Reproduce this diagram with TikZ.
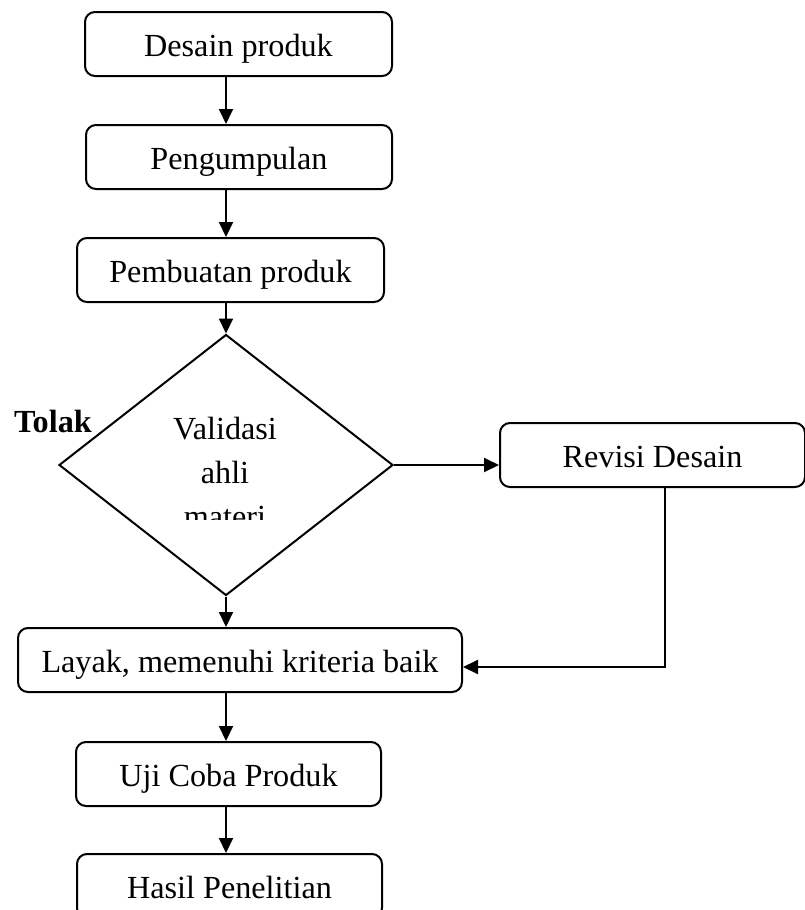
\documentclass[tikz,border=0pt]{standalone}
\usepackage{fontspec}
\setmainfont{Liberation Serif}
\usetikzlibrary{shapes.geometric,arrows.meta}
\begin{document}
\begin{tikzpicture}[x=1pt,y=1pt,
  box/.style={draw,line width=2pt,rounded corners=10pt,minimum height=64pt,inner sep=0pt,text height=25pt,text depth=0pt,font=\fontsize{32.2}{38}\selectfont},
  arr/.style={line width=2pt,-{Triangle[length=15pt,width=14pt]}},
  txt/.style={inner sep=0pt,font=\fontsize{32.2}{38}\selectfont}]
\useasboundingbox (0,0) rectangle (805,-910);
\clip (0,0) rectangle (805,-910);
\node[box,minimum width=307pt] (b1) at (238.5,-44) {Desain produk};
\node[box,minimum width=306pt] (b2) at (239,-157) {Pengumpulan};
\node[box,minimum width=307pt] (b3) at (230.5,-270) {Pembuatan produk};
\node[draw,line width=2pt,shape=diamond,minimum width=334pt,minimum height=261pt,inner sep=0pt] (val) at (226,-465) {};
\node[txt,anchor=base] (v1) at (225,-439) {Validasi};
\node[txt,anchor=base] (v2) at (225,-483) {ahli};
\begin{scope}
\clip (150,-490) rectangle (300,-519);
\node[txt,anchor=base] (v3) at (225,-527) {materi};
\end{scope}
\node[txt,anchor=base west,font=\fontsize{32.2}{38}\selectfont\bfseries] (tol) at (14,-432) {Tolak};
\node[box,minimum width=305pt] (rev) at (652.5,-455) {Revisi Desain};
\node[box,minimum width=444pt] (lay) at (240,-660) {Layak, memenuhi kriteria baik};
\node[box,minimum width=305pt] (uji) at (228.5,-774) {Uji Coba Produk};
\node[box,minimum width=305pt] (has) at (229.5,-886) {Hasil Penelitian};
\coordinate (fx) at (665,0);
\draw[arr] (b1.south -| val.north) -- (b2.north -| val.north);
\draw[arr] (b2.south -| val.north) -- (b3.north -| val.north);
\draw[arr] (b3.south -| val.north) -- (val.north);
\draw[arr] (val.south) -- (lay.north -| val.south);
\draw[arr] (val.east) -- (val.east -| rev.west);
\draw[arr] (rev.south -| fx) |- ([yshift=-7pt]lay.east);
\draw[arr] (lay.south -| val.north) -- (uji.north -| val.north);
\draw[arr] (uji.south -| val.north) -- (has.north -| val.north);
\end{tikzpicture}
\end{document}
